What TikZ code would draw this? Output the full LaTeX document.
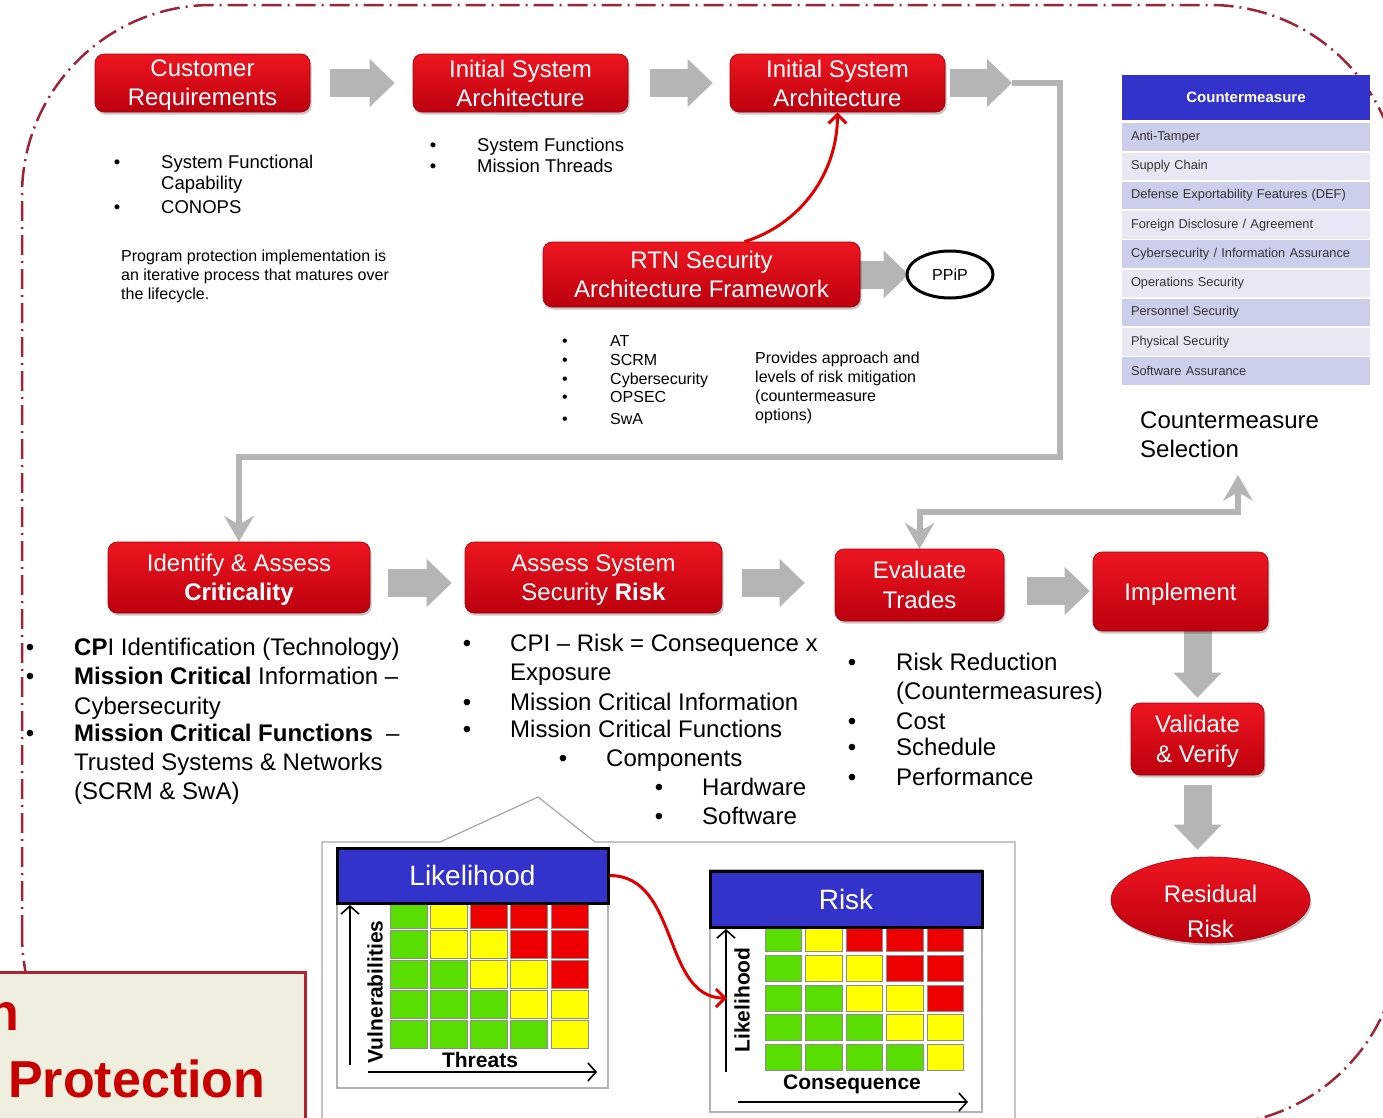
\documentclass[tikz,border=0pt]{standalone}
\usepackage{fontspec}
\setmainfont{Liberation Sans}
\usetikzlibrary{arrows.meta,shadows,shapes.geometric,calc}

\definecolor{boxtop}{RGB}{238,22,32}
\definecolor{boxbot}{RGB}{188,0,14}
\definecolor{agray}{RGB}{181,181,181}
\definecolor{dashred}{RGB}{158,36,56}
\definecolor{cmblue}{RGB}{51,51,204}
\definecolor{rowA}{RGB}{204,207,235}
\definecolor{rowB}{RGB}{231,232,244}
\definecolor{cg}{RGB}{90,221,0}
\definecolor{cy}{RGB}{255,255,0}
\definecolor{cr}{RGB}{238,0,0}
\definecolor{beige}{RGB}{239,239,223}
\definecolor{framered}{RGB}{178,34,52}
\definecolor{titlered}{RGB}{200,0,0}
\definecolor{arrred}{RGB}{224,0,0}

\pgfdeclarelayer{back}
\pgfsetlayers{back,main}

% one line of plain text, placed by its baseline
\newcommand{\txtline}[5]{\node[ln,font=\fontsize{#4}{#4}\selectfont] (#1) at (#2,#3) {#5};}
% a list bullet, placed by its baseline
\newcommand{\bulletmark}[4]{\node[bul,font=\fontsize{#4}{#4}\selectfont] (#1) at (#2,#3) {\textbullet};}

\begin{document}
\begin{tikzpicture}[x=1pt,y=-1pt,
  redbox/.style={rectangle, rounded corners=9pt, top color=boxtop, bottom color=boxbot,
    draw=boxbot!85!black, line width=0.6pt, text=white, align=center, inner sep=0pt,
    text depth=0pt, font=\fontsize{24}{29}\selectfont,
    drop shadow={shadow xshift=1.5pt, shadow yshift=-2.5pt, opacity=0.22, fill=black}},
  redell/.style={ellipse, top color=boxtop, bottom color=boxbot, draw=boxbot!85!black,
    line width=0.6pt, inner sep=0pt,
    drop shadow={shadow xshift=1.5pt, shadow yshift=-2.5pt, opacity=0.22, fill=black}},
  wtext/.style={text=white, align=center, inner sep=0pt, font=\fontsize{24}{35}\selectfont},
  barrow/.style={agray, line width=28pt, -{Triangle[length=25pt,width=48pt,line width=0pt]}},
  gline/.style={agray, line width=6pt},
  gtip/.tip={Stealth[length=26pt,width=30pt,inset=9pt,line width=0pt]},
  redarr/.style={draw=arrred, line width=3pt, -{Straight Barb[length=9pt,width=18pt]}},
  axarr/.style={black, line width=1.6pt, -{Straight Barb[length=8pt,width=18pt]}},
  ln/.style={anchor=base west, inner sep=0pt},
  bul/.style={anchor=base, inner sep=0pt},
  cmhead/.style={fill=cmblue, minimum width=248pt, minimum height=45pt, inner sep=0pt,
    text=white, font=\bfseries\fontsize{15}{18}\selectfont},
  cmrow/.style={inner xsep=9pt, inner ysep=0pt, text width=230pt, minimum height=27.5pt,
    align=left, font=\fontsize{12.8}{15}\selectfont, text=black!80},
  mhead/.style={fill=cmblue, draw=black, line width=3pt, inner sep=0pt, text=white,
    font=\fontsize{28}{32}\selectfont},
  axlbl/.style={inner sep=0pt, font=\bfseries\fontsize{21}{24}\selectfont},
  cellbox/.style={draw=black!45, line width=0.7pt},
  ptitle/.style={anchor=base west, inner sep=0pt, text=titlered,
    font=\bfseries\fontsize{52}{52}\selectfont},
  panel/.style={draw=black!30, line width=1.2pt}
]
\useasboundingbox (0,0) rectangle (1383,1117);

\begin{pgfonlayer}{back}
  \fill[white] (-20,-20) rectangle (1410,1140);
  % dash-dot lifecycle frame
  \draw[dashred, line width=2.5pt, dash pattern=on 20pt off 6pt on 2pt off 6pt,
        rounded corners=190pt] (22,1125) -- (22,5) -- (1400,5) -- (1400,1125) -- cycle;
\end{pgfonlayer}

% ---------- top row ----------
\node[redbox, minimum width=215pt, minimum height=58pt] (cr) at (202.5,83) {Customer\\Requirements};
\node[redbox, minimum width=215pt, minimum height=58pt] (isa1) at (520.5,83) {Initial System\\Architecture};
\node[redbox, minimum width=215pt, minimum height=58pt] (isa2) at (837.5,83) {Initial System\\Architecture};
\node[redbox, minimum width=317pt, minimum height=65pt] (rtn) at (701.5,274.5) {RTN Security\\Architecture Framework};
\node[ellipse, draw=black, line width=3pt, minimum width=86pt, minimum height=47pt, inner sep=0pt,
      font=\fontsize{16}{18}\selectfont] (ppip) at (950,274.5) {PPiP};
\coordinate (ta) at (1012,83);

\begin{pgfonlayer}{back}
  \draw[barrow] ([xshift=20pt]cr.east) -- ([xshift=-18pt]isa1.west);
  \draw[barrow] ([xshift=22pt]isa1.east) -- ([xshift=-17pt]isa2.west);
  \draw[barrow] ([xshift=5pt]isa2.east) -- (ta);
  \draw[barrow] (rtn.east) -- ([xshift=3pt]ppip.west);
\end{pgfonlayer}

\draw[redarr] ([xshift=43pt]rtn.north) .. controls +(55,-17) and +(0,62) .. (isa2.south);

% notes under the top row
\bulletmark{b1}{117}{168.5}{18.5}\txtline{t1}{161}{168.5}{18.5}{System Functional}
\txtline{t2}{161}{189}{18.5}{Capability}
\bulletmark{b3}{117}{213.5}{18.5}\txtline{t3}{161}{213.5}{18.5}{CONOPS}

\bulletmark{b4}{433}{151.5}{18.5}\txtline{t4}{477}{151.5}{18.5}{System Functions}
\bulletmark{b5}{433}{172.5}{18.5}\txtline{t5}{477}{172.5}{18.5}{Mission Threads}

\txtline{p1}{121}{261.8}{16}{Program protection implementation is}
\txtline{p2}{121}{280}{16}{an iterative process that matures over}
\txtline{p3}{121}{299}{16}{the lifecycle.}

\bulletmark{b6}{565}{346}{16}\txtline{t6}{610}{346}{16}{AT}
\bulletmark{b7}{565}{365}{16}\txtline{t7}{610}{365}{16}{SCRM}
\bulletmark{b8}{565}{384}{16}\txtline{t8}{610}{384}{16}{Cybersecurity}
\bulletmark{b9}{565}{402}{16}\txtline{t9}{610}{402}{16}{OPSEC}
\bulletmark{b10}{565}{424}{16}\txtline{t10}{610}{424}{16}{SwA}

\txtline{q1}{755}{363}{16}{Provides approach and}
\txtline{q2}{755}{382}{16}{levels of risk mitigation}
\txtline{q3}{755}{401}{16}{(countermeasure}
\txtline{q4}{755}{420}{16}{options)}

% ---------- countermeasure table ----------
\node[cmhead] (cmh) at (1246,97.5) {Countermeasure};
\node[cmrow, fill=rowA] (cm1) at (1246,137) {Anti-Tamper};
\node[cmrow, fill=rowB] (cm2) at (1246,166.25) {Supply Chain};
\node[cmrow, fill=rowA] (cm3) at (1246,195.5) {Defense Exportability Features (DEF)};
\node[cmrow, fill=rowB] (cm4) at (1246,224.75) {Foreign Disclosure / Agreement};
\node[cmrow, fill=rowA] (cm5) at (1246,254) {Cybersecurity / Information Assurance};
\node[cmrow, fill=rowB] (cm6) at (1246,283.25) {Operations Security};
\node[cmrow, fill=rowA] (cm7) at (1246,312.5) {Personnel Security};
\node[cmrow, fill=rowB] (cm8) at (1246,341.75) {Physical Security};
\node[cmrow, fill=rowA] (cm9) at (1246,371) {Software Assurance};

\txtline{cs1}{1140}{428.6}{24}{Countermeasure}
\txtline{cs2}{1140}{457.6}{24}{Selection}
\coordinate (csel) at (1238,475);

% ---------- lower row ----------
\node[redbox, minimum width=262pt, minimum height=71pt] (ident) at (239,577.5) {Identify \& Assess\\\textbf{Criticality}};
\node[redbox, minimum width=257pt, minimum height=71pt] (assess) at (593.5,577.5) {Assess System\\Security \textbf{Risk}};
\node[redbox, minimum width=169pt, minimum height=72pt, font=\fontsize{24}{30}\selectfont] (ev) at (919.5,585) {Evaluate\\Trades};
\node[redbox, minimum width=175pt, minimum height=79pt] (impl) at (1180.5,591.5) {Implement};
\node[redbox, minimum width=133pt, minimum height=72pt, font=\fontsize{24}{30}\selectfont] (val) at (1197.5,739) {Validate\\\& Verify};
\node[redell, minimum width=199pt, minimum height=86pt] (rr) at (1210.5,900) {};
\node[wtext] (rrt) at ([yshift=-11.5pt]rr.center) {Residual\\Risk};

\begin{pgfonlayer}{back}
  \draw[gline, -gtip] (ta) -| (1060,457) -| (ident.north);
  \draw[gline, gtip-gtip] (csel) -- (1238,512) -| (ev.north);
  \draw[barrow] ($(ident.east)+(18,5.5)$) -- ($(assess.west)+(-13,5.5)$);
  \draw[barrow] ($(assess.east)+(20,5.5)$) -- ($(ev.west)+(-30,-2)$);
  \draw[barrow] ($(ev.east)+(23,6)$) -- ($(impl.west)+(-3,-0.5)$);
  \draw[barrow] (val.north |- impl.south) -- ([yshift=5pt]val.north);
  \draw[barrow] ($(val.south)+(0,10)$) -- ($(val.south |- rr.north)+(0,-7)$);
\end{pgfonlayer}

% notes under the lower row
\bulletmark{c1}{30}{655.6}{24}\txtline{u1}{74}{655.6}{24}{\textbf{CP}I Identification (Technology)}
\bulletmark{c2}{30}{684.6}{24}\txtline{u2}{74}{684.6}{24}{\textbf{Mission Critical} Information --}
\txtline{u3}{74}{714.6}{24}{Cybersecurity}
\bulletmark{c4}{30}{741.6}{24}\txtline{u4}{74}{741.6}{24}{\textbf{Mission Critical Functions}\ \ --}
\txtline{u5}{74}{770.6}{24}{Trusted Systems \& Networks}
\txtline{u6}{74}{799.6}{24}{(SCRM \& SwA)}

\bulletmark{d1}{467}{651.6}{24}\txtline{v1}{510}{651.6}{24}{CPI -- Risk = Consequence x}
\txtline{v2}{510}{680.6}{24}{Exposure}
\bulletmark{d3}{467}{710.6}{24}\txtline{v3}{510}{710.6}{24}{Mission Critical Information}
\bulletmark{d4}{467}{737.6}{24}\txtline{v4}{510}{737.6}{24}{Mission Critical Functions}
\bulletmark{d5}{563}{766.6}{24}\txtline{v5}{606}{766.6}{24}{Components}
\bulletmark{d6}{659}{795.6}{24}\txtline{v6}{702}{795.6}{24}{Hardware}
\bulletmark{d7}{659}{824.6}{24}\txtline{v7}{702}{824.6}{24}{Software}

\bulletmark{e1}{852}{670.6}{24}\txtline{w1}{896}{670.6}{24}{Risk Reduction}
\txtline{w2}{896}{699.6}{24}{(Countermeasures)}
\bulletmark{e3}{852}{729.6}{24}\txtline{w3}{896}{729.6}{24}{Cost}
\bulletmark{e4}{852}{755.6}{24}\txtline{w4}{896}{755.6}{24}{Schedule}
\bulletmark{e5}{852}{785.6}{24}\txtline{w5}{896}{785.6}{24}{Performance}

% ---------- risk matrices ----------
\draw[draw=black!35, line width=1.2pt] (322,1130) -- (322,842) -- (440,842) -- (538,797)
      -- (595,842) -- (1015,842) -- (1015,1130);
\draw[panel] (337,848) rectangle (608,1088);
\draw[panel] (710,870) rectangle (982,1112);

\foreach \rw [count=\r from 0] in {{cg,cy,cr,cr,cr},{cg,cy,cy,cr,cr},{cg,cg,cy,cy,cr},{cg,cg,cg,cy,cy},{cg,cg,cg,cg,cy}}{
  \foreach \cc [count=\k from 0] in \rw {
    \filldraw[cellbox, fill=\cc] ({390+40.25*\k},{900+30*\r}) rectangle ++(37,28);
    \filldraw[cellbox, fill=\cc] ({765+40.5*\k},{925.5+29.7*\r}) rectangle ++(36.5,26);
  }
}

\node[mhead, minimum width=271pt, minimum height=55pt] (lkh) at (472.5,875.5) {Likelihood};
\node[mhead, minimum width=272pt, minimum height=56pt] (rsk) at (846,899) {Risk};

\draw[axarr] (350,1065) -- (350,905);
\draw[axarr] (368,1072) -- (597,1072);
\node[axlbl, rotate=90] (vul) at (375,992) {Vulnerabilities};
\node[axlbl] (thr) at (480,1060) {Threats};

\draw[axarr] (726,1072) -- (726,929);
\draw[axarr] (738,1102) -- (968,1102);
\node[axlbl, rotate=90] (lik) at (742,1000) {Likelihood};
\node[axlbl] (con) at (852,1084) {Consequence};

\coordinate (rkin) at (727,998);
\draw[redarr] (lkh.east) .. controls +(70,0) and +(-65,0) .. (rkin);

% ---------- title box ----------
\draw[fill=beige, draw=framered, line width=3pt] (-10,972) rectangle (305,1135);
\node[ptitle] (pt1) at (-13,1030) {n};
\node[ptitle] (pt2) at (8,1097) {Protection};
\end{tikzpicture}
\end{document}
